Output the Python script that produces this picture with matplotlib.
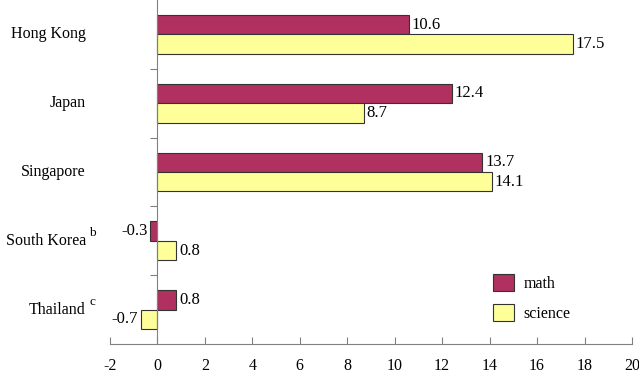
import numpy as np
import matplotlib
matplotlib.use("Agg")
import matplotlib.pyplot as plt
from matplotlib import transforms

plt.rcParams['font.family'] = ['Liberation Serif', 'DejaVu Serif']
plt.rcParams['axes.unicode_minus'] = False

countries = ['Hong Kong', 'Japan', 'Singapore', 'South Korea', 'Thailand']
notes = ['', '', '', 'b', 'c']
math = [10.6, 12.4, 13.7, -0.3, 0.8]
science = [17.5, 8.7, 14.1, 0.8, -0.7]
series_names = ['math', 'science']

fig = plt.figure(figsize=(6.39, 3.85), dpi=100)
ax = fig.add_axes([0.172, 0.1065, 0.817, 0.8935])

y = np.arange(len(countries))
h = 0.283
b1 = ax.barh(y - h / 2, math, height=h, color='#B03060', edgecolor='#333333', linewidth=0.8, label=series_names[0])
b2 = ax.barh(y + h / 2, science, height=h, color='#FFFF99', edgecolor='#333333', linewidth=0.8, label=series_names[1])

ax.set_xlim(-2, 20)
ax.set_ylim(4.5, -0.5)
ax.set_xticks(np.arange(-2, 21, 2))
ax.set_yticks(np.arange(0.5, len(countries) - 1, 1))
ax.set_yticklabels([])

for s in ['top', 'right']:
    ax.spines[s].set_visible(False)
ax.spines['left'].set_position(('data', 0))
ax.spines['left'].set_color('#808080')
ax.spines['bottom'].set_color('#808080')
ax.tick_params(axis='x', direction='in', length=5, color='#808080', labelsize=11.5, pad=10)
ax.tick_params(axis='y', direction='out', length=5, color='#808080')

# value labels
for bars, vals in [(b1, math), (b2, science)]:
    for bar, v in zip(bars, vals):
        yc = bar.get_y() + bar.get_height() / 2
        if v >= 0:
            ax.annotate(f'{v:.1f}', (v, yc), xytext=(2, 0), textcoords='offset points',
                        ha='left', va='center', fontsize=12)
        else:
            ax.annotate(f'{v:.1f}', (v, yc), xytext=(-2, 0), textcoords='offset points',
                        ha='right', va='center', fontsize=12)

# category labels
trans = transforms.blended_transform_factory(ax.transAxes, ax.transData)
for i, (c, n) in enumerate(zip(countries, notes)):
    ax.text(-0.046, i, c, transform=trans, ha='right', va='center', fontsize=11.5)
    if n:
        ax.annotate(n, (-0.046, i), xycoords=trans, xytext=(2.5, 5.5), textcoords='offset points',
                    ha='left', va='center', fontsize=9.5)

ax.legend(loc='upper left', bbox_to_anchor=(0.707, 0.245), frameon=False, fontsize=11.5,
          handlelength=1.3, handleheight=1.25, labelspacing=0.75, handletextpad=0.6)

fig.savefig('out.png', dpi=100)
